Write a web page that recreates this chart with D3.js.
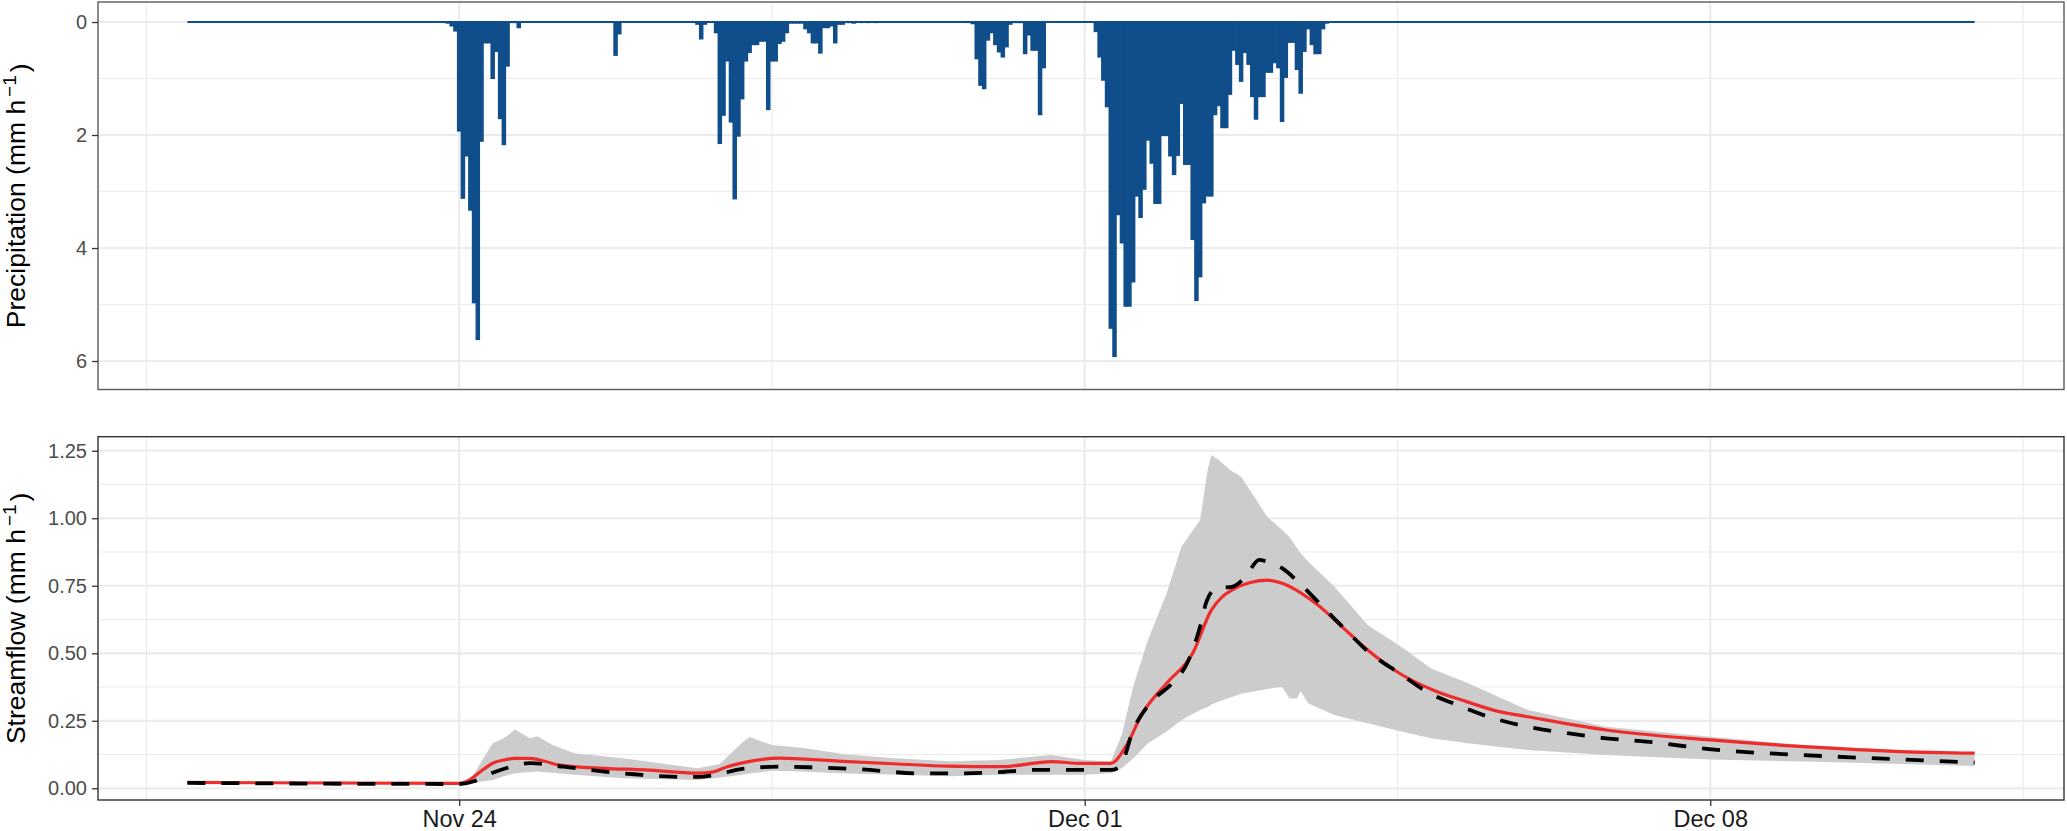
<!DOCTYPE html>
<meta charset="utf-8">
<title>Precipitation and streamflow</title>
<body style="margin:0;background:#ffffff;">
<div id="chart"></div>
<script src="https://d3js.org/d3.v7.min.js"></script>
<script>

// all times are hours counted from Nov 24 00:00
const recordStart = -73, recordEnd = 407;

// hourly precipitation (mm/h), only the wet hours
const rainHours = [
  -4, -3, -2, -1, 0, 1, 2, 3, 4, 5, 6, 7, 8, 9, 10, 11, 12, 13, 14, 15, 16,
  42, 43,
  64, 65, 66, 69, 70, 71, 72, 73, 74, 75, 76, 77, 78, 79, 80, 81, 82, 83, 84, 85, 86, 87, 88,
  89, 90, 91, 92, 93, 94, 95, 96, 97, 98, 99, 100, 101, 102, 103, 104, 105, 106, 108, 110, 112,
  137, 138, 139, 140, 141, 142, 143, 144, 145, 146, 147, 148, 149, 150, 151, 152, 153, 154, 155, 156, 157,
  171, 172, 173, 174, 175, 176, 177, 178, 179, 180, 181, 182, 183, 184, 185, 186, 187, 188, 189, 190,
  191, 192, 193, 194, 195, 196, 197, 198, 199, 200, 201, 202, 203, 204, 205, 206, 207, 208, 209, 210,
  211, 212, 213, 214, 215, 216, 217, 218, 219, 220, 221, 222, 223, 224, 225, 226, 227, 228, 229, 230,
  231, 232, 233
];
const rainValues = [
  0.02, 0.03, 0.08, 0.17, 1.94, 3.13, 2.38, 3.34, 4.98, 5.63, 2.12, 0.38, 0.38, 1.01, 0.53, 1.72, 2.18, 0.79, 0.02, 0.02, 0.11,
  0.60, 0.22,
  0.05, 0.31, 0.05, 0.20, 2.16, 1.66, 0.70, 1.78, 3.14, 2.03, 1.37, 0.70, 0.55, 0.41, 0.41, 0.35, 0.35, 1.56, 0.70, 0.70, 0.39, 0.35, 0.20,
  0.03, 0.03, 0.03, 0.03, 0.13, 0.20, 0.38, 0.38, 0.56, 0.11, 0.11, 0.08, 0.38, 0.05, 0.05, 0.02, 0.02, 0.03, 0.02, 0.02, 0.02,
  0.02, 0.04, 0.66, 1.13, 1.19, 0.33, 0.20, 0.41, 0.54, 0.63, 0.45, 0.05, 0.02, 0.02, 0.02, 0.57, 0.24, 0.51, 0.51, 1.65, 0.82,
  0.18, 0.63, 1.04, 1.51, 5.43, 5.93, 3.42, 3.92, 5.04, 5.04, 4.61, 3.09, 3.47, 2.97, 2.10, 2.51, 3.22, 3.22, 2.02, 2.02,
  2.38, 2.71, 2.37, 1.45, 2.53, 2.53, 3.86, 4.94, 4.52, 3.21, 3.09, 3.09, 1.65, 1.49, 1.88, 1.88, 1.29, 0.51, 0.76, 1.06,
  0.55, 0.76, 1.33, 1.73, 1.33, 1.33, 0.90, 0.90, 0.73, 0.82, 1.77, 0.99, 0.37, 0.37, 0.85, 1.27, 0.53, 0.13, 0.41, 0.57,
  0.57, 0.13, 0.03
];

// simulated streamflow (red line)
const simHours = [-73, 0, 3, 6, 9, 12, 15, 19, 23, 27, 39, 50, 64, 68, 72, 78, 86, 94, 103, 118, 131, 146, 159, 167,
  175, 179, 183.5, 190, 197, 202, 205, 207.5, 212, 217, 221, 230, 239, 244, 252.5, 261.5, 270.5, 279, 287, 308, 336, 361, 387, 407];
const simFlow = [0.022, 0.018, 0.033, 0.065, 0.093, 0.105, 0.111, 0.111, 0.100, 0.086, 0.074, 0.068, 0.056, 0.060, 0.080, 0.100,
  0.112, 0.107, 0.100, 0.090, 0.082, 0.080, 0.099, 0.092, 0.092, 0.154, 0.278, 0.389, 0.500, 0.660, 0.710, 0.734, 0.760, 0.771,
  0.759, 0.685, 0.574, 0.512, 0.426, 0.364, 0.321, 0.285, 0.265, 0.216, 0.179, 0.154, 0.136, 0.130];

// observed streamflow (black dashed line)
const obsHours = [-73, 0, 4, 7.5, 14, 19, 28, 39, 47, 57, 64, 69, 76, 86, 94, 108, 124, 134, 145, 154, 167, 175, 177.5, 181,
  185.5, 191.5, 195.5, 199, 200.7, 203.4, 207.6, 211, 214.9, 216.8, 221, 225.7, 230.2, 234.5, 239, 243.6, 252.5, 261.4, 266,
  276.4, 287, 297.6, 308, 318.8, 336.3, 361, 387, 407];
const obsFlow = [0.020, 0.016, 0.026, 0.049, 0.080, 0.093, 0.080, 0.062, 0.052, 0.043, 0.042, 0.050, 0.072, 0.080, 0.078, 0.070,
  0.055, 0.055, 0.060, 0.068, 0.068, 0.068, 0.080, 0.216, 0.315, 0.389, 0.463, 0.599, 0.691, 0.741, 0.746, 0.780, 0.846, 0.840,
  0.815, 0.759, 0.697, 0.636, 0.574, 0.512, 0.426, 0.346, 0.320, 0.265, 0.228, 0.204, 0.185, 0.173, 0.144, 0.123, 0.107, 0.095];

// uncertainty band (grey ribbon)
const bandHours = [-73, 0, 3, 6, 9, 12, 15, 19, 21, 25, 31, 44, 64, 70, 76, 78, 84, 92, 104, 118, 132, 145, 159, 168, 175, 178,
  181, 185, 190, 194, 199, 201, 202, 204, 207, 210, 217, 221, 223, 225, 226, 228, 235, 244, 253, 261, 271, 279, 287, 308, 336,
  361, 387, 407];
const bandUpper = [0.022, 0.020, 0.030, 0.100, 0.167, 0.185, 0.218, 0.185, 0.193, 0.160, 0.130, 0.111, 0.074, 0.090, 0.170, 0.190,
  0.160, 0.150, 0.125, 0.110, 0.100, 0.105, 0.123, 0.105, 0.099, 0.200, 0.376, 0.550, 0.722, 0.895, 0.994, 1.179, 1.234, 1.216,
  1.179, 1.154, 1.006, 0.957, 0.930, 0.890, 0.870, 0.840, 0.747, 0.605, 0.524, 0.444, 0.389, 0.339, 0.290, 0.228, 0.191, 0.160,
  0.142, 0.133];
const bandLower = [0.020, 0.016, 0.020, 0.025, 0.031, 0.045, 0.056, 0.060, 0.062, 0.058, 0.050, 0.037, 0.031, 0.040, 0.050, 0.055,
  0.065, 0.062, 0.055, 0.050, 0.045, 0.050, 0.050, 0.050, 0.056, 0.075, 0.110, 0.167, 0.210, 0.253, 0.290, 0.300, 0.310, 0.321,
  0.335, 0.350, 0.368, 0.376, 0.333, 0.333, 0.360, 0.315, 0.271, 0.241, 0.210, 0.185, 0.167, 0.154, 0.142, 0.123, 0.107, 0.099,
  0.090, 0.083];

const dayTicks = ["2020-11-24", "2020-12-01", "2020-12-08"];
const rainTicks = [0, 2, 4, 6];
const flowTicks = [0, 0.25, 0.5, 0.75, 1, 1.25];

// ---------------------------------------------------------------
const W = 2067, H = 831;
const left = 98, right = 2064;
const p1 = {top: 2, bottom: 389.5};
const p2 = {top: 436.7, bottom: 800};
const font = "'Liberation Sans', Arial, Helvetica, sans-serif";

const t0 = Date.UTC(2020, 10, 24);
const hr = h => new Date(t0 + h * 3600e3);

const svg = d3.select("#chart").append("svg")
  .attr("width", W).attr("height", H)
  .style("font-family", font);

const x = d3.scaleUtc()
  .domain([hr(recordStart - 24), hr(recordEnd + 24)])
  .range([left, right]);

const yRain = d3.scaleLinear().domain([-0.354, 6.504]).range([p1.top, p1.bottom]);
const yFlow = d3.scaleLinear().domain([-0.0433, 1.302]).range([p2.bottom, p2.top]);

const majorDays = dayTicks.map(d => new Date(d + "T00:00:00Z"));
const minorDays = [d3.utcHour.offset(majorDays[0], -84)]
  .concat(majorDays.map(d => d3.utcHour.offset(d, 84)));

function grid(g, y, ticks, p) {
  const minor = ticks.slice(1).map((t, i) => (t + ticks[i]) / 2);
  g.selectAll(".hmin").data(minor).join("line")
    .attr("x1", left).attr("x2", right)
    .attr("y1", d => y(d)).attr("y2", d => y(d))
    .attr("stroke", "#ebebeb").attr("stroke-width", 1.1);
  g.selectAll(".vmin").data(minorDays).join("line")
    .attr("x1", d => x(d)).attr("x2", d => x(d))
    .attr("y1", p.top).attr("y2", p.bottom)
    .attr("stroke", "#ebebeb").attr("stroke-width", 1.1);
  g.selectAll(".hmaj").data(ticks).join("line")
    .attr("x1", left).attr("x2", right)
    .attr("y1", d => y(d)).attr("y2", d => y(d))
    .attr("stroke", "#ebebeb").attr("stroke-width", 2.2);
  g.selectAll(".vmaj").data(majorDays).join("line")
    .attr("x1", d => x(d)).attr("x2", d => x(d))
    .attr("y1", p.top).attr("y2", p.bottom)
    .attr("stroke", "#ebebeb").attr("stroke-width", 2.2);
}

function yAxis(y, ticks, fmt) {
  const g = svg.append("g")
    .attr("transform", `translate(${left},0)`)
    .call(d3.axisLeft(y).tickValues(ticks).tickFormat(fmt).tickSize(6).tickPadding(5));
  g.select(".domain").remove();
  g.selectAll(".tick line").attr("stroke", "#333333").attr("stroke-width", 1.3);
  g.selectAll(".tick text").attr("fill", "#4d4d4d")
    .style("font-size", "20px").style("font-family", font);
}

function border(p, colour) {
  svg.append("rect")
    .attr("x", left).attr("y", p.top)
    .attr("width", right - left).attr("height", p.bottom - p.top)
    .attr("fill", "none").attr("stroke", colour).attr("stroke-width", 1.4);
}

function yTitle(cy, label) {
  const t = svg.append("text")
    .attr("transform", `translate(25,${cy}) rotate(-90)`)
    .attr("text-anchor", "middle")
    .attr("fill", "#000")
    .style("font-size", "26.5px");
  t.append("tspan").text(label + " (mm h");
  t.append("tspan").attr("dx", "3").attr("dy", "-0.5em").style("font-size", "19px").text("\u22121");
  t.append("tspan").attr("dx", "3").attr("dy", "0.5em").text(")");
}

// ---------- top panel: precipitation ----------
grid(svg.append("g"), yRain, rainTicks, p1);

const rain = rainHours.map((h, i) => ({h: h, v: rainValues[i]}));

svg.append("line")
  .attr("x1", x(hr(recordStart))).attr("x2", x(hr(recordEnd)))
  .attr("y1", yRain(0)).attr("y2", yRain(0))
  .attr("stroke", "#104E8B").attr("stroke-width", 1.8);

svg.append("g").selectAll("rect").data(rain).join("rect")
  .attr("x", d => x(hr(d.h - 0.5)) - 0.4)
  .attr("width", d => x(hr(d.h + 0.5)) - x(hr(d.h - 0.5)) + 0.8)
  .attr("y", yRain(0))
  .attr("height", d => yRain(d.v) - yRain(0))
  .attr("fill", "#104E8B");

border(p1, "#5a5a5a");
yAxis(yRain, rainTicks, d3.format("d"));
yTitle((p1.top + p1.bottom) / 2, "Precipitation");

// ---------- bottom panel: streamflow ----------
grid(svg.append("g"), yFlow, flowTicks, p2);

const band = bandHours.map((h, i) => ({h: h, lo: bandLower[i], hi: bandUpper[i]}));
const sim = simHours.map((h, i) => ({h: h, v: simFlow[i]}));
const obs = obsHours.map((h, i) => ({h: h, v: obsFlow[i]}));

svg.append("path").datum(band)
  .attr("fill", "#cccccc")
  .attr("d", d3.area()
    .x(d => x(hr(d.h)))
    .y0(d => yFlow(d.lo))
    .y1(d => yFlow(d.hi)));

const line = d3.line()
  .x(d => x(hr(d.h)))
  .y(d => yFlow(d.v))
  .curve(d3.curveMonotoneX);

svg.append("path").datum(sim)
  .attr("fill", "none").attr("stroke", "#EE2C2C").attr("stroke-width", 3.2)
  .attr("d", line);

svg.append("path").datum(obs)
  .attr("fill", "none").attr("stroke", "#000000").attr("stroke-width", 3.8)
  .attr("stroke-dasharray", "18,16")
  .attr("d", line);

border(p2, "#333333");
yAxis(yFlow, flowTicks, d3.format(".2f"));
yTitle((p2.top + p2.bottom) / 2, "Streamflow");

const xg = svg.append("g")
  .attr("transform", `translate(0,${p2.bottom})`)
  .call(d3.axisBottom(x).tickValues(majorDays).tickFormat(d3.utcFormat("%b %d")).tickSize(6).tickPadding(4));
xg.select(".domain").remove();
xg.selectAll(".tick line").attr("stroke", "#333333").attr("stroke-width", 1.3);
xg.selectAll(".tick text").attr("fill", "#1a1a1a")
  .style("font-size", "23.5px").style("font-family", font);

</script>
